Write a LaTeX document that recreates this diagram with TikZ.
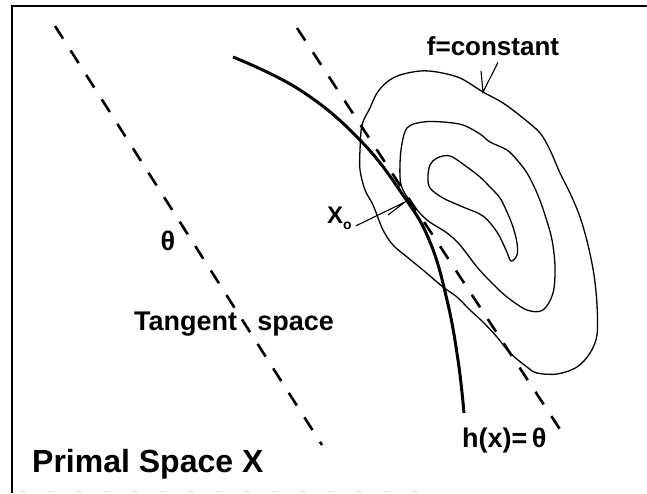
\documentclass[tikz,border=0pt]{standalone}
\usepackage{fontspec}
\setmainfont{Liberation Sans}
\begin{document}
\begin{tikzpicture}[x=1pt,y=-1pt,
  lbl/.style={font=\bfseries\fontsize{27}{27}\selectfont, inner sep=0pt},
  dashline/.style={line width=2.6pt, dash pattern=on 15pt off 14pt},
  contour/.style={line width=1.3pt},
  hcurve/.style={line width=3pt},
  leader/.style={line width=1.1pt}]
\useasboundingbox (0,0) rectangle (647,493);
% frame
\draw[line width=2.5pt] (12,6) -- (647,6);
\draw[line width=2pt] (12,5) -- (12,493);
\draw[gray!25, line width=0.6pt, dash pattern=on 6pt off 22pt] (20,491) -- (430,491);
% tangent space lines
\coordinate (L1a) at (55,26);
\coordinate (L1b) at (322,445);
\coordinate (L2a) at (297,28);
\coordinate (L2b) at (567,440);
\draw[dashline] (L1a) -- (L1b);
\draw[dashline] (L2a) -- (L2b);
% contours of f
\draw[contour] plot[smooth cycle, tension=0.55] coordinates {
 (420,71) (437,72) (460,78) (483,92) (503,103) (523,118) (540,133) (550,150)
 (560,173) (570,193) (580,217) (588,245) (594,275) (597,305) (597,335) (590,353)
 (577,367) (557,374) (537,373) (527,367) (510,353) (497,337) (483,322) (470,310)
 (457,297) (443,287) (423,270) (407,257) (393,245) (383,230) (373,205) (365,190)
 (360,170) (360,150) (362,125) (370,108) (377,93) (387,82) (400,75)};
\draw[contour] plot[smooth cycle, tension=0.55] coordinates {
 (400,177) (403,190) (413,205) (427,220) (447,233) (460,245) (477,267) (490,281)
 (507,297) (527,310) (543,310) (553,293) (555,267) (552,240) (545,215) (537,193)
 (527,173) (517,160) (507,150) (490,142) (480,134) (463,125) (443,122) (423,122)
 (407,128) (401,150)};
\draw[contour] plot[smooth cycle, tension=0.55] coordinates {
 (437,158) (450,156) (467,167) (480,177) (490,187) (500,198) (507,212) (513,227)
 (517,243) (517,255) (511,261) (506,250) (497,232) (483,216) (463,207) (443,198)
 (430,188) (428,177) (430,165)};
% constraint curve h(x)=theta
\draw[hcurve] plot[smooth, tension=0.7] coordinates {
 (233,57) (300,90) (360,140) (405,198) (430,242) (447,300) (458,360) (464,413)};
% labels
\node[lbl, anchor=base, font=\bfseries\fontsize{26}{26}\selectfont] (fc) at (493,55) {f=constant};
\node[lbl, anchor=base] (th) at (168,250) {θ};
\node[lbl, anchor=base] (ts) at (234,330) {Tangent\hspace{0.75em}space};
\node[lbl, anchor=base west, font=\bfseries\fontsize{24}{24}\selectfont] (x0) at (327,223) {X\raisebox{-6pt}{\fontsize{14}{14}\selectfont o}};
\node[lbl, anchor=base west] (hx) at (462,447) {h(x)=\,θ};
\node[lbl, anchor=base west, font=\bfseries\fontsize{32}{32}\selectfont] (ps) at (32,472) {Primal Space X};
% leaders
\coordinate (fend) at (483,92);
\coordinate (fbarb) at (481,71);
\draw[leader] ([xshift=5pt,yshift=-7pt]fc.south) -- (fend) -- (fbarb);
\coordinate (xend) at (405,202);
\coordinate (xbarb) at (388,215);
\draw[leader] ([xshift=4pt,yshift=-8pt]x0.east) -- (xend) -- (xbarb);
\end{tikzpicture}
\end{document}
